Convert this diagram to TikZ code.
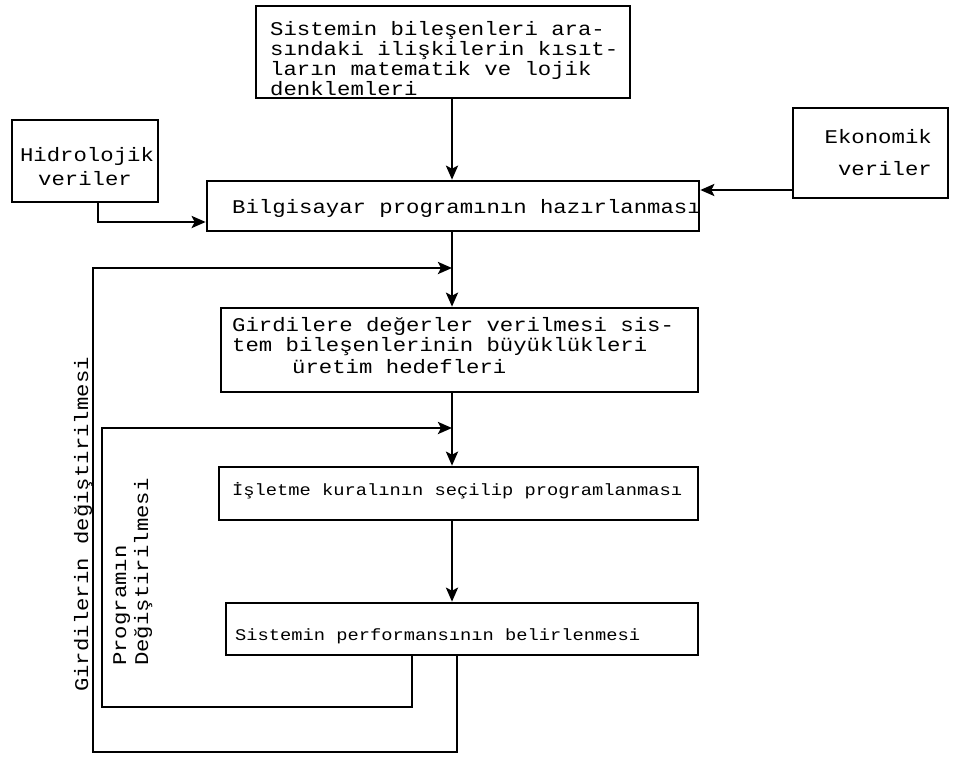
\documentclass[tikz,border=0pt]{standalone}
\usepackage{fontspec}
\setmainfont[FakeStretch=1.15]{Liberation Mono}
\usetikzlibrary{arrows.meta}
\begin{document}
\begin{tikzpicture}[x=1bp,y=-1bp,
  box/.style={draw, rectangle, line width=2.6bp, inner sep=0pt},
  arr/.style={line width=2.6bp, -{Stealth[length=14bp,width=12bp,inset=3bp]}},
  txt/.style={inner sep=0pt, anchor=base west, font=\fontsize{19.4bp}{20bp}\selectfont},
  stxt/.style={inner sep=0pt, anchor=base west, font=\fontsize{16.3bp}{18bp}\selectfont}]
\path[fill=white,use as bounding box] (0,0) rectangle (954,758);

% boxes
\node[box, minimum width=374bp, minimum height=92bp] (T) at (443,52) {};
\node[box, minimum width=146bp, minimum height=82bp] (H) at (85,161) {};
\node[box, minimum width=155bp, minimum height=90bp] (E) at (870.5,153) {};
\node[box, minimum width=492bp, minimum height=50bp] (B) at (453,206) {};
\node[box, minimum width=477bp, minimum height=84bp] (G) at (459.5,350) {};
\node[box, minimum width=479bp, minimum height=53bp] (I) at (458.5,493.5) {};
\node[box, minimum width=472bp, minimum height=52bp] (P) at (462,629) {};

% texts
\node[txt] (T1) at (270,36) {Sistemin bileşenleri ara-};
\node[txt] (T2) at (270,55.7) {sındaki ilişkilerin kısıt-};
\node[txt] (T3) at (270,75.4) {ların matematik ve lojik};
\node[txt] (T4) at (270,95.1) {denklemleri};

\node[txt, anchor=base] (H1) at (87,161) {Hidrolojik};
\node[txt, anchor=base] (H2) at (85,185) {veriler};

\node[txt, anchor=base east] (E1) at (932,143) {Ekonomik};
\node[txt, anchor=base east] (E2) at (932,175) {veriler};

\node[txt] (B1) at (232,213) {Bilgisayar programının hazırlanması};

\node[txt] (G1) at (232,331) {Girdilere değerler verilmesi sis-};
\node[txt] (G2) at (232,351) {tem bileşenlerinin büyüklükleri};
\node[txt] (G3) at (292,373) {üretim hedefleri};

\node[stxt] (I1) at (232,495) {İşletme kuralının seçilip programlanması};
\node[stxt] (P1) at (235,640) {Sistemin performansının belirlenmesi};

\node[txt, rotate=90] (L1) at (88,692) {Girdilerin değiştirilmesi};
\node[txt, rotate=90] (L2) at (126,666) {Programın};
\node[txt, rotate=90] (L3) at (148,666) {Değiştirilmesi};

% coordinates
\coordinate (sp) at (452,0);
\coordinate (hb) at (98,222);
\coordinate (eb) at (0,190);
\coordinate (o1) at (457,752);
\coordinate (o2) at (93,268);
\coordinate (i1) at (412,707);
\coordinate (i2) at (102,428);

% connectors
\draw[arr] (T.south -| sp) -- (B.north -| sp);
\draw[arr] (B.south -| sp) -- (G.north -| sp);
\draw[arr] (G.south -| sp) -- (I.north -| sp);
\draw[arr] (I.south -| sp) -- (P.north -| sp);
\draw[arr] (H.south -| hb) |- (B.west |- hb);
\draw[arr] (E.west |- eb) -- (B.east |- eb);
\draw[arr] (P.south -| o1) -- (o1) -| (o2) -- (sp |- o2);
\draw[arr] (P.south -| i1) -- (i1) -| (i2) -- (sp |- i2);
\end{tikzpicture}
\end{document}
